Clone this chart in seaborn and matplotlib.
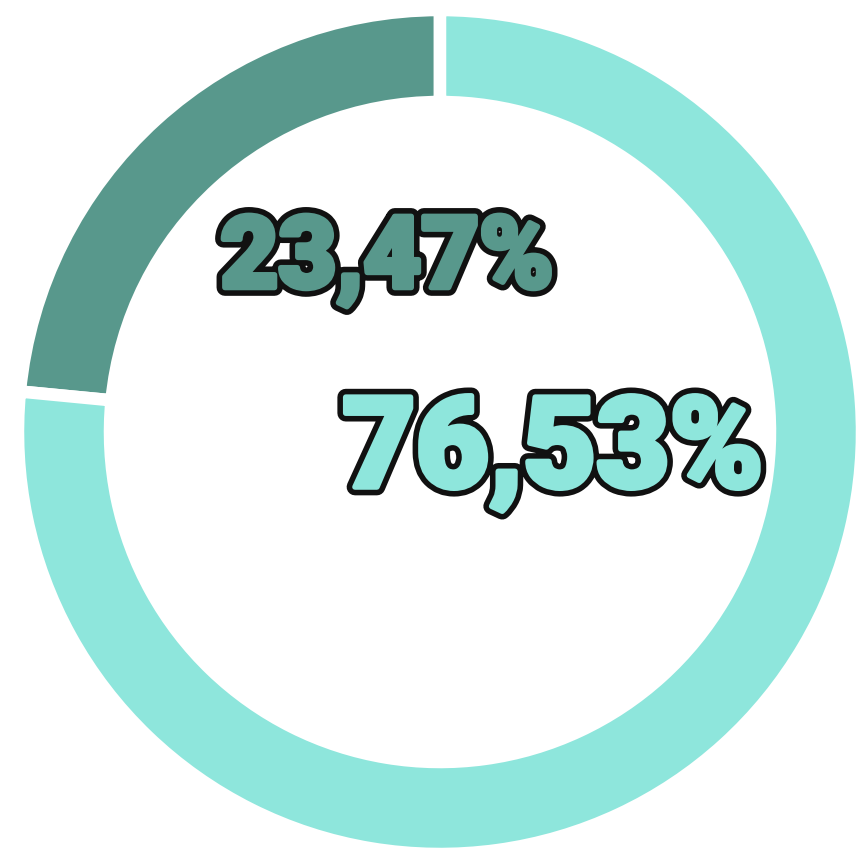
import matplotlib
matplotlib.use('Agg')
import matplotlib.pyplot as plt
import matplotlib.patheffects as pe
import seaborn as sns

# Share of each group (percent)
labels = ['23,47%', '76,53%']
values = [23.47, 76.53]
colors = ['#58988c', '#8ee6dc']

sns.set_theme(style='white')
plt.rcParams['font.family'] = ['Roboto', 'DejaVu Sans']

fig = plt.figure(figsize=(8.61, 8.60), dpi=100)
ax = fig.add_axes([0, 0, 1, 1])

ax.pie(values, colors=colors, startangle=90, counterclock=True,
       center=(440, 428), radius=422, frame=True,
       wedgeprops=dict(width=92, edgecolor='white', linewidth=9))
ax.set_xlim(0, 861)
ax.set_ylim(0, 860)
ax.set_aspect('equal')
ax.axis('off')


def heavy(col):
    # thick black outline, then widen the glyph with its own colour
    return [pe.Stroke(linewidth=12, foreground='#111111'),
            pe.Stroke(linewidth=4, foreground=col),
            pe.Normal()]


ax.text(387, 600, labels[0], ha='center', va='center', fontsize=72,
        fontweight='black', color=colors[0], path_effects=heavy(colors[0]))
ax.text(553, 407, labels[1], ha='center', va='center', fontsize=91,
        fontweight='black', color=colors[1], path_effects=heavy(colors[1]))

plt.savefig('out.png', dpi=100)
plt.close()
